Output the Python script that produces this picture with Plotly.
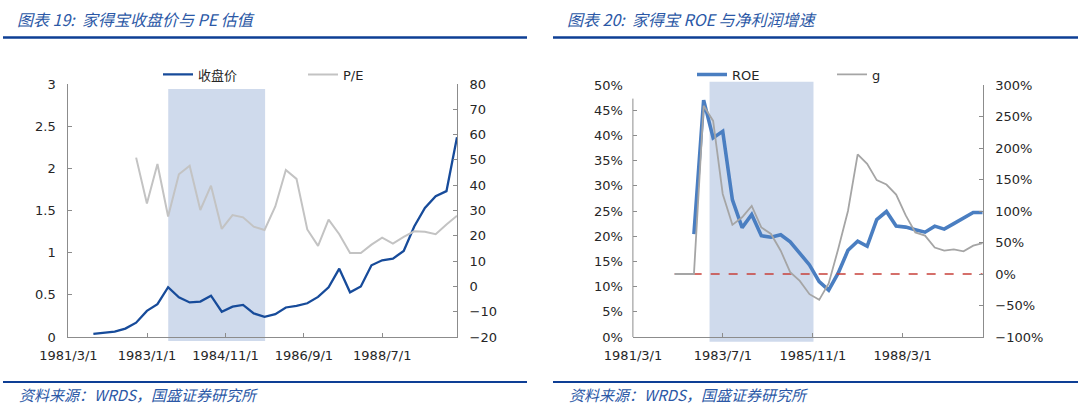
import plotly.graph_objects as go

# ---------------- data ----------------
QUARTER_ENDS = [f"{y}-{md}" for y in range(1981, 1991) for md in ("03-31", "06-30", "09-30", "12-31")]

price_dates = QUARTER_ENDS[2:37]          # 1981-09-30 .. 1990-03-31
price = [0.036, 0.05, 0.063, 0.10, 0.17, 0.31, 0.39, 0.59, 0.47, 0.41,
         0.42, 0.49, 0.30, 0.36, 0.38, 0.28, 0.24, 0.27, 0.35, 0.37,
         0.40, 0.475, 0.59, 0.81, 0.53, 0.60, 0.85, 0.91, 0.93, 1.02,
         1.31, 1.53, 1.67, 1.73, 2.37]

pe_dates = QUARTER_ENDS[6:37]             # 1982-09-30 .. 1990-03-31
pe = [50.9, 32.8, 48.4, 27.6, 44.3, 47.7, 30.2, 39.8, 22.7, 28.2,
      27.3, 23.6, 22.3, 31.6, 46.0, 42.5, 22.5, 16.0, 26.4, 20.6,
      13.2, 13.2, 16.5, 19.3, 16.9, 19.6, 21.8, 21.6, 20.6, 24.5, 27.9]

roe_dates = QUARTER_ENDS[6:37]
roe = [0.204, 0.47, 0.395, 0.408, 0.272, 0.217, 0.243, 0.201, 0.198, 0.203,
       0.189, 0.167, 0.143, 0.110, 0.093, 0.127, 0.172, 0.190, 0.180, 0.233,
       0.249, 0.220, 0.218, 0.213, 0.208, 0.220, 0.214, 0.225, 0.237, 0.247, 0.247]

g_dates = QUARTER_ENDS[4:37]              # 1982-03-31 .. 1990-03-31
g = [0, 0, 0, 2.67, 2.43, 1.27, 0.78, 0.90, 1.08, 0.74,
     0.635, 0.37, 0.03, -0.11, -0.32, -0.41, -0.15, 0.40, 1.00, 1.90,
     1.75, 1.49, 1.42, 1.26, 0.93, 0.66, 0.61, 0.42, 0.37, 0.39,
     0.36, 0.45, 0.49]

zero_ref_dates = [g_dates[0], g_dates[-1]]
zero_ref = [0, 0]

band_left = ["1983-07-01", "1985-10-05"]
band_right = ["1983-02-25", "1985-11-07"]

title_left = "图表 19:  家得宝收盘价与 PE 估值"
title_right = "图表 20:  家得宝 ROE 与净利润增速"
source_text = "资料来源：WRDS，国盛证券研究所"

# ---------------- styling ----------------
W, H = 1080, 416
AX = "#8C8C8C"
TICKFONT = dict(family="DejaVu Sans, Noto Sans CJK SC", size=13, color="#262626")
HEAD_BLUE = "#2B58A6"
RULE_BLUE = "#0E3F95"


def px_x(p):
    return p / W


def px_y(p):
    return 1 - p / H


fig = go.Figure()

fig.add_trace(go.Scatter(x=price_dates, y=price, name="收盘价", mode="lines",
                         line=dict(color="#174B9A", width=2.3),
                         xaxis="x", yaxis="y", legend="legend"))
fig.add_trace(go.Scatter(x=pe_dates, y=pe, name="P/E", mode="lines",
                         line=dict(color="#C3C3C3", width=2),
                         xaxis="x", yaxis="y2", legend="legend2"))

fig.add_trace(go.Scatter(x=zero_ref_dates, y=zero_ref, mode="lines", showlegend=False,
                         line=dict(color="#C8403A", width=1.3, dash="dash"),
                         xaxis="x2", yaxis="y4", hoverinfo="skip"))
fig.add_trace(go.Scatter(x=g_dates, y=g, name="g", mode="lines",
                         line=dict(color="#A5A5A5", width=1.8),
                         xaxis="x2", yaxis="y4", legend="legend4"))
fig.add_trace(go.Scatter(x=roe_dates, y=roe, name="ROE", mode="lines",
                         line=dict(color="#4A7EC1", width=3.6),
                         xaxis="x2", yaxis="y3", legend="legend3"))

ydom = [px_y(337), px_y(84)]
ydom_r = [px_y(337), px_y(85)]

common_x = dict(type="date", range=["1981-02-28", "1990-03-31"], tick0="1981-03-01",
                tickformat="%Y/%-m/%-d", ticks="inside", ticklen=4, tickcolor=AX,
                showline=True, linecolor=AX, linewidth=1, showgrid=False, zeroline=False,
                tickfont=TICKFONT, ticklabelstandoff=6, automargin=False)
common_y = dict(ticks="inside", ticklen=4, tickcolor=AX, showline=True, linecolor=AX,
                linewidth=1, showgrid=False, zeroline=False, tickfont=TICKFONT,
                ticklabelstandoff=9, automargin=False)

fig.update_layout(
    template="none",
    width=W, height=H, autosize=False,
    margin=dict(l=0, r=0, t=0, b=0, pad=0),
    paper_bgcolor="white", plot_bgcolor="white",
    xaxis=dict(common_x, domain=[px_x(68.3), px_x(457)], anchor="y", dtick="M22"),
    yaxis=dict(common_y, domain=ydom, anchor="x", range=[0, 3], dtick=0.5),
    yaxis2=dict(common_y, overlaying="y", side="right", anchor="x", range=[-20, 80], dtick=10),
    xaxis2=dict(common_x, domain=[px_x(632.9), px_x(982.7)], anchor="y3", dtick="M28"),
    yaxis3=dict(common_y, domain=ydom_r, anchor="x2", range=[0, 0.5], dtick=0.05,
                tickformat=".0%", showline=False),
    yaxis4=dict(common_y, overlaying="y3", side="right", anchor="x2", range=[-1, 3], dtick=0.5,
                tickformat=".0%"),
    showlegend=True,
)

legend_common = dict(orientation="h", bgcolor="rgba(0,0,0,0)", borderwidth=0,
                     font=dict(family="DejaVu Sans, Noto Sans CJK SC", size=13, color="#262626"),
                     xanchor="left", yanchor="middle", y=px_y(74.5), itemwidth=30)
fig.update_layout(
    legend=dict(legend_common, x=px_x(158)),
    legend2=dict(legend_common, x=px_x(303)),
    legend3=dict(legend_common, x=px_x(692)),
    legend4=dict(legend_common, x=px_x(832)),
)

shapes = [
    dict(type="rect", xref="x", yref="y domain", x0=band_left[0], x1=band_left[1],
         y0=-0.016, y1=0.98, fillcolor="#CFDAEC", line=dict(width=0), layer="below"),
    dict(type="rect", xref="x2", yref="y3 domain", x0=band_right[0], x1=band_right[1],
         y0=-0.019, y1=1.013, fillcolor="#CFDAEC", line=dict(width=0), layer="below"),
    # partial left axis line of the right chart
    dict(type="line", xref="x2 domain", yref="y3", x0=0, x1=0, y0=0, y1=0.473,
         line=dict(color=AX, width=1)),
]
# header and footer rules
for (xa, xb) in [(3, 527), (553, 1078)]:
    shapes.append(dict(type="line", xref="paper", yref="paper", x0=px_x(xa), x1=px_x(xb),
                       y0=px_y(37.5), y1=px_y(37.5), line=dict(color=RULE_BLUE, width=2.6)))
    shapes.append(dict(type="line", xref="paper", yref="paper", x0=px_x(xa), x1=px_x(xb),
                       y0=px_y(382), y1=px_y(382), line=dict(color=RULE_BLUE, width=2.2)))
fig.update_layout(shapes=shapes)

head_font = dict(family="Noto Sans CJK SC", size=16, color=HEAD_BLUE, style="italic")
foot_font = dict(family="Noto Sans CJK SC", size=15, color=HEAD_BLUE, style="italic")
annotations = [
    dict(text=title_left, x=px_x(15), y=px_y(19), xref="paper", yref="paper",
         xanchor="left", yanchor="middle", showarrow=False, font=head_font),
    dict(text=title_right, x=px_x(565), y=px_y(19), xref="paper", yref="paper",
         xanchor="left", yanchor="middle", showarrow=False, font=head_font),
    dict(text=source_text, x=px_x(17), y=px_y(394), xref="paper", yref="paper",
         xanchor="left", yanchor="middle", showarrow=False, font=foot_font),
    dict(text=source_text, x=px_x(567), y=px_y(394), xref="paper", yref="paper",
         xanchor="left", yanchor="middle", showarrow=False, font=foot_font),
]
fig.update_layout(annotations=annotations)

fig.write_html("out.html",
               config={"displayModeBar": False},
               post_script="document.body.style.margin='0';document.body.style.overflow='hidden';")
